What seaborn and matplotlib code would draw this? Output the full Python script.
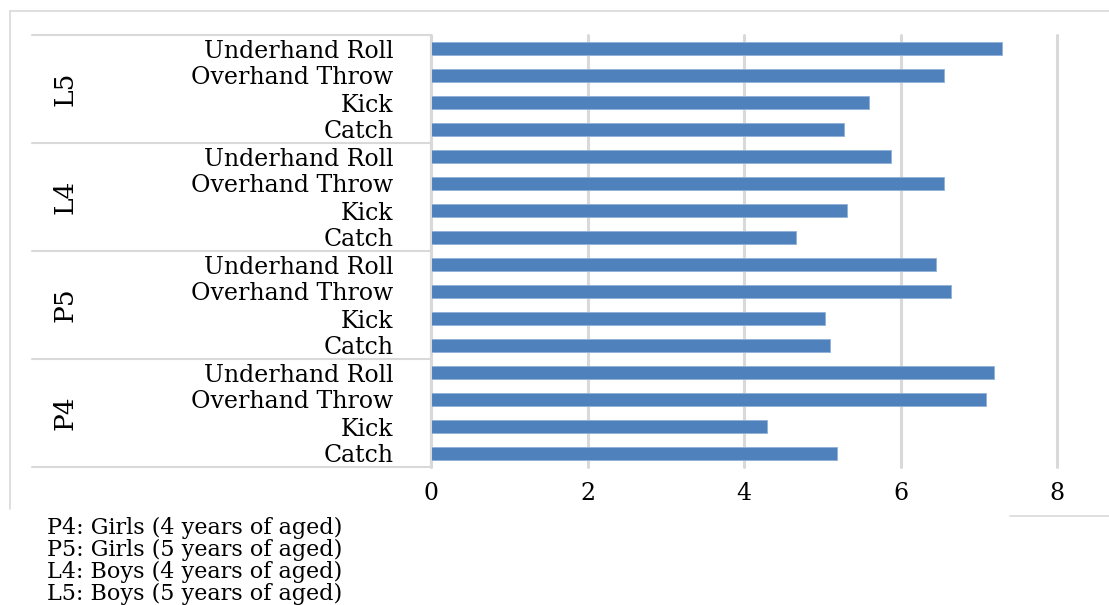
import matplotlib
matplotlib.use("Agg")
import matplotlib.pyplot as plt
import matplotlib.transforms as mtransforms
from matplotlib.lines import Line2D
import pandas as pd
import seaborn as sns

# Data (top to bottom)
groups = ["L5", "L4", "P5", "P4"]
activities = ["Underhand Roll", "Overhand Throw", "Kick", "Catch"]
l5_scores = [7.30, 6.55, 5.60, 5.28]
l4_scores = [5.88, 6.55, 5.32, 4.66]
p5_scores = [6.46, 6.64, 5.03, 5.10]
p4_scores = [7.19, 7.09, 4.30, 5.19]
x_ticks = [0, 2, 4, 6, 8]
notes = [
    "P4: Girls (4 years of aged)",
    "P5: Girls (5 years of aged)",
    "L4: Boys (4 years of aged)",
    "L5: Boys (5 years of aged)",
]

scores = {"L5": l5_scores, "L4": l4_scores, "P5": p5_scores, "P4": p4_scores}
rows = []
for g in groups:
    for act, val in zip(activities, scores[g]):
        rows.append({"key": g + " | " + act, "group": g, "activity": act, "score": val})
df = pd.DataFrame(rows)
keys = list(df["key"])

sns.set_style("white")
plt.rcParams["font.family"] = ["DejaVu Serif"]
plt.rcParams["text.color"] = "black"
plt.rcParams["xtick.color"] = "black"
plt.rcParams["ytick.color"] = "black"

W, H = 1109, 605
fig = plt.figure(figsize=(W / 100, H / 100), dpi=100)
ax = fig.add_axes([431 / W, 1 - 467 / H, (1057 - 431) / W, (467 - 35) / H])

sns.barplot(data=df, x="score", y="key", order=keys, color="#4F81BD",
            saturation=1, width=0.47, edgecolor="#8fb0d8", linewidth=0.6, ax=ax)

ax.set_xlim(0, 8)
ax.set_ylim(len(keys) - 0.5, -0.5)
ax.set_xticks(x_ticks)
ax.set_xticklabels([str(t) for t in x_ticks], fontsize=17)
ax.set_yticks(range(len(keys)))
ax.set_yticklabels(list(df["activity"]), fontsize=17)
ax.tick_params(axis="y", length=0, pad=27)
ax.tick_params(axis="x", length=0, pad=11)
ax.set_xlabel("")
ax.set_ylabel("")

ax.grid(axis="x", color="#d9d9d9", linewidth=2.2)
ax.grid(axis="y", visible=False)
for gl in ax.get_xgridlines():
    gl.set_clip_on(False)
ax.set_axisbelow(True)
for side in ["top", "right", "bottom"]:
    ax.spines[side].set_visible(False)
ax.spines["left"].set_color("#d9d9d9")
ax.spines["left"].set_linewidth(1.5)

# group separators and group labels on the left
trans = mtransforms.blended_transform_factory(ax.transAxes, ax.transData)
left_x = (32 - 431) / (1057 - 431)
for i in range(len(groups) + 1):
    yb = i * len(activities) - 0.5
    ax.plot([left_x, 0], [yb, yb], color="#d9d9d9", lw=1.5,
            transform=trans, clip_on=False)
for i, g in enumerate(groups):
    yc = i * len(activities) + (len(activities) - 1) / 2
    ax.text((65 - 431) / (1057 - 431), yc, g, transform=trans, rotation=90,
            ha="center", va="center", fontsize=19)

# chart area border (partially visible)
border = "#d9d9d9"
fig.add_artist(Line2D([10 / W, 10 / W], [1 - 11 / H, 1 - 509 / H], color=border, lw=1.2))
fig.add_artist(Line2D([10 / W, 1], [1 - 11 / H, 1 - 11 / H], color=border, lw=1.2))
fig.add_artist(Line2D([1010 / W, 1], [1 - 516 / H, 1 - 516 / H], color=border, lw=1.2))

# notes below the chart
for i, note in enumerate(notes):
    fig.text(47 / W, 1 - (528 + i * 22) / H, note, ha="left", va="center", fontsize=16)

fig.savefig("out.png", dpi=100)
